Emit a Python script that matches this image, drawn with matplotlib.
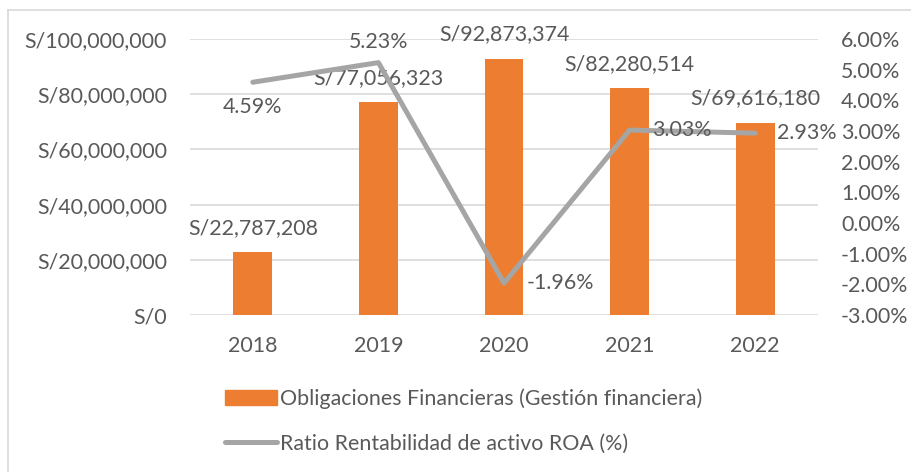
import matplotlib.pyplot as plt
from matplotlib.lines import Line2D
from matplotlib.ticker import FuncFormatter

years = ["2018", "2019", "2020", "2021", "2022"]
obligaciones = [22787208, 77056323, 92873374, 82280514, 69616180]
roa = [4.59, 5.23, -1.96, 3.03, 2.93]

bar_name = "Obligaciones Financieras (Gestión financiera)"
line_name = "Ratio Rentabilidad de activo ROA (%)"

orange = "#ed7d31"
gray = "#a5a5a5"
txt = "#595959"
fs = 15.4
plt.rcParams["font.family"] = ["Lato", "DejaVu Sans"]

W, H = 912, 472
fig = plt.figure(figsize=(W / 100, H / 100), dpi=100)
ax = fig.add_axes([190 / W, (H - 315) / H, 628 / W, 276 / H])
x = range(len(years))

ax.bar(x, obligaciones, width=0.31, color=orange, zorder=2)
ax.set_xlim(-0.5, len(years) - 0.5)
ax.set_ylim(0, 100000000)
ax.set_yticks(range(0, 100000001, 20000000))
ax.yaxis.set_major_formatter(FuncFormatter(lambda v, p: f"S/{v:,.0f}"))
ax.set_xticks(list(x))
ax.set_xticklabels(years)
ax.grid(axis="y", color="#d9d9d9", linewidth=1.2, zorder=0)
for s in ax.spines.values():
    s.set_visible(False)
ax.tick_params(length=0, labelsize=fs, labelcolor=txt)
ax.tick_params(axis="y", pad=16.5)
ax.tick_params(axis="x", pad=15)

for i, v in enumerate(obligaciones):
    ax.annotate(f"S/{v:,.0f}", (i, v), xytext=(0, 17.5), textcoords="offset points",
                ha="center", va="center", fontsize=fs, color=txt)

ax2 = ax.twinx()
ax2.plot(x, roa, color=gray, linewidth=3.6, solid_capstyle="round", solid_joinstyle="round")
ax2.set_ylim(-3, 6)
ax2.set_yticks(range(-3, 7))
ax2.yaxis.set_major_formatter(FuncFormatter(lambda v, p: f"{v:.2f}%"))
for s in ax2.spines.values():
    s.set_visible(False)
ax2.tick_params(length=0, labelsize=fs, labelcolor=txt, pad=16.5)

# where each ROA label sits (offset in points, alignment)
offs = [(0, -18, "center"), (0, 15, "center"), (16, 0, "left"), (16, 0, "left"), (16, 0, "left")]
for i, v in enumerate(roa):
    dx, dy, ha = offs[i]
    ax2.annotate(f"{v:.2f}%", (i, v), xytext=(dx, dy), textcoords="offset points",
                 ha=ha, va="center", fontsize=fs, color=txt)

handles = [plt.Rectangle((0, 0), 1, 1, color=orange),
           Line2D([0], [0], color=gray, linewidth=3.6, solid_capstyle="round")]
fig.legend(handles, [bar_name, line_name], loc="center left",
           bbox_to_anchor=(214 / W, (H - 421) / H), frameon=False, fontsize=fs,
           labelcolor=txt, handlelength=2.45, handleheight=0.65, handletextpad=0.15,
           labelspacing=1.15, borderpad=0)

# chart border
fig.add_artist(Line2D([8 / W, 8 / W], [0, (H - 10) / H], color="#d9d9d9", linewidth=1.2))
fig.add_artist(Line2D([8 / W, 1], [(H - 10) / H, (H - 10) / H], color="#d9d9d9", linewidth=1.2))

fig.savefig("out.png", dpi=100)
